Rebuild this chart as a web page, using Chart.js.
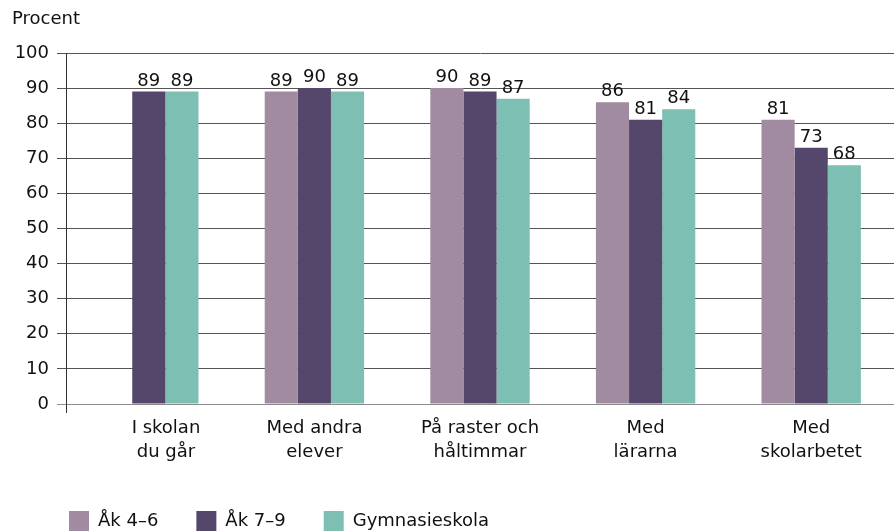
<!DOCTYPE html>
<html>
<head>
<meta charset="utf-8">
<script src="https://cdn.jsdelivr.net/npm/chart.js@4/dist/chart.umd.min.js"></script>
<style>
  html, body { margin: 0; padding: 0; background: #fff; }
  #wrap { width: 894px; height: 532px; }
</style>
</head>
<body>
<div id="wrap"><canvas id="trivsel"></canvas></div>
<script>
// kategorier (flera rader per etikett)
const categories = [
  ["\u00a0\u00a0\u00a0\u00a0\u00a0\u00a0I skolan", "\u00a0\u00a0\u00a0\u00a0\u00a0\u00a0du går"],
  ["Med andra", "elever"],
  ["På raster och", "håltimmar"],
  ["Med", "lärarna"],
  ["Med", "skolarbetet"],
];

// andel i procent per skolform
const ak46 = [null, 89, 90, 86, 81];
const ak79 = [89, 90, 89, 81, 73];
const gymnasie = [89, 89, 87, 84, 68];

const seriesNames = ["Åk 4–6", "Åk 7–9", "Gymnasieskola"];
const seriesColors = ["#a08ba1", "#54476b", "#7dbfb2"];

const yMin = 0, yMax = 100, yStep = 10;

const FONT = "'DejaVu Sans', sans-serif";
const TEXT = "#111";

// siffror ovanför staplarna
const valueLabels = {
  id: "valueLabels",
  afterDatasetsDraw(chart) {
    const ctx = chart.ctx;
    ctx.save();
    ctx.font = "18px " + FONT;
    ctx.fillStyle = TEXT;
    ctx.textAlign = "center";
    ctx.textBaseline = "alphabetic";
    chart.data.datasets.forEach((ds, i) => {
      chart.getDatasetMeta(i).data.forEach((bar, j) => {
        const v = ds.data[j];
        if (v === null || v === undefined) return;
        ctx.fillText(String(v), bar.x, bar.y - 6);
      });
    });
    ctx.restore();
  },
};

// flytta förklaringen in under diagrammet
const legendOffset = {
  id: "legendOffset",
  afterLayout(chart) {
    chart.legend.left += 19;
    chart.legend.top += 6;
  },
};

new Chart(document.getElementById("trivsel"), {
  type: "bar",
  data: {
    labels: categories,
    datasets: [
      { label: seriesNames[0], data: ak46, backgroundColor: seriesColors[0] },
      { label: seriesNames[1], data: ak79, backgroundColor: seriesColors[1] },
      { label: seriesNames[2], data: gymnasie, backgroundColor: seriesColors[2] },
    ],
  },
  options: {
    responsive: true,
    maintainAspectRatio: false,
    animation: false,
    datasets: {
      bar: { categoryPercentage: 0.6, barPercentage: 1.0, borderWidth: 0 },
    },
    layout: { padding: { left: 12, right: 0, top: 0, bottom: -3 } },
    plugins: {
      title: {
        display: true,
        text: "Procent",
        align: "start",
        color: TEXT,
        font: { family: FONT, size: 18, weight: "normal", lineHeight: 1.2 },
        padding: { top: 9, bottom: 22.4 },
      },
      legend: {
        position: "bottom",
        align: "start",
        labels: {
          boxWidth: 20,
          boxHeight: 20,
          padding: 38,
          color: TEXT,
          font: { family: FONT, size: 18 },
        },
      },
      tooltip: { enabled: false },
    },
    scales: {
      x: {
        grid: {
          display: true,
          drawOnChartArea: false,
          drawTicks: true,
          tickLength: 9,
          color: (c) => (c.index === 0 ? "#333" : "rgba(0,0,0,0)"),
        },
        border: { color: "#8c8c8c" },
        ticks: {
          color: TEXT,
          padding: 3,
          maxRotation: 0,
          autoSkip: false,
          font: { family: FONT, size: 18, lineHeight: 1.333 },
        },
      },
      y: {
        min: yMin,
        max: yMax,
        afterFit(scale) { scale.width = 54; },
        grid: {
          color: (c) => (c.tick && c.tick.value === 0 ? "#8c8c8c" : "#555"),
          tickLength: 9,
        },
        border: { color: "#333" },
        ticks: {
          stepSize: yStep,
          padding: 8,
          color: TEXT,
          font: { family: FONT, size: 18 },
        },
      },
    },
  },
  plugins: [valueLabels, legendOffset],
});
</script>
</body>
</html>
